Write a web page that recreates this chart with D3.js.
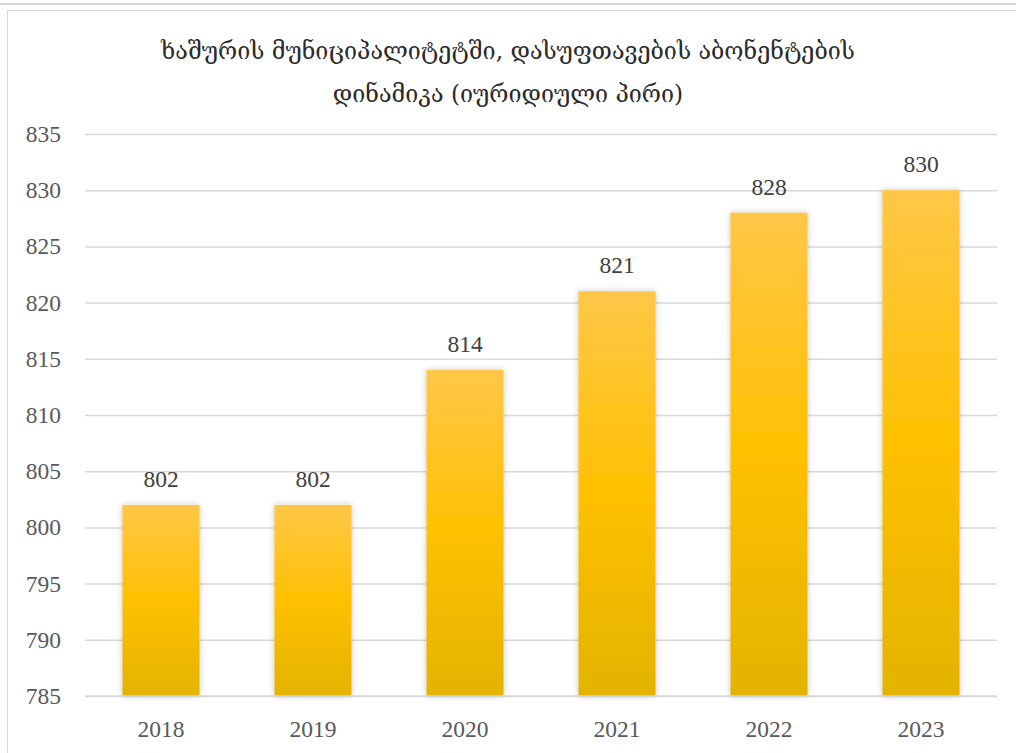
<!DOCTYPE html>
<html><head><meta charset="utf-8">
<script src="https://cdn.jsdelivr.net/npm/d3@7"></script>
<style>html,body{margin:0;padding:0;background:#fff;}svg{display:block;}</style>
</head><body>
<svg id="c" width="1016" height="753"></svg>
<script>
const titleLines = ["ხაშურის მუნიციპალიტეტში, დასუფთავების აბონენტების", "დინამიკა (იურიდიული პირი)"];
const years = ["2018","2019","2020","2021","2022","2023"];
const values = [802, 802, 814, 821, 828, 830];
const yTicks = [785,790,795,800,805,810,815,820,825,830,835];

const svg = d3.select("#c");
const W = 1016, H = 753;
const m = {left:85, right:19, top:134, bottom:57};

// frames
svg.append("line").attr("x1",0).attr("x2",W).attr("y1",4).attr("y2",4).attr("stroke","#d9d9d9").attr("stroke-width",2);
svg.append("rect").attr("x",7.5).attr("y",10.5).attr("width",W+20).attr("height",H+20)
  .attr("fill","#fff").attr("stroke","#d9d9d9").attr("stroke-width",1);

const defs = svg.append("defs");
const g = defs.append("linearGradient").attr("id","barg").attr("x1",0).attr("y1",0).attr("x2",0).attr("y2",1)
  .attr("gradientUnits","objectBoundingBox");
g.append("stop").attr("offset","0%").attr("stop-color","#FFC748");
g.append("stop").attr("offset","50%").attr("stop-color","#FFC000");
g.append("stop").attr("offset","100%").attr("stop-color","#E3B300");
const f = defs.append("filter").attr("id","sh").attr("x","-20%").attr("y","-20%").attr("width","140%").attr("height","140%");
f.append("feGaussianBlur").attr("in","SourceAlpha").attr("stdDeviation",3).attr("result","b");
f.append("feFlood").attr("flood-color","#000").attr("flood-opacity",0.22);
f.append("feComposite").attr("in2","b").attr("operator","in").attr("result","s");
const mg = f.append("feMerge");
mg.append("feMergeNode").attr("in","s");
mg.append("feMergeNode").attr("in","SourceGraphic");

const x = d3.scaleBand().domain(years).range([m.left, W-m.right]).paddingInner(0.493).paddingOuter(0.2465);
const y = d3.scaleLinear().domain([785,835]).range([H-m.bottom, m.top]);

// title
const t = svg.append("text").attr("text-anchor","middle").attr("font-family","'DejaVu Serif', 'Noto Sans', serif")
  .attr("font-size",23.3).attr("fill","#2a2a2a");
titleLines.forEach((l,i)=>t.append("tspan").attr("x",508).attr("y",59+i*43).text(l));

// grid + y axis
const ya = d3.axisLeft(y).tickValues(yTicks).tickSize(-(W-m.left-m.right)).tickFormat(d3.format("d"));
const yg = svg.append("g").attr("transform",`translate(${m.left},0)`).call(ya);
yg.select(".domain").remove();
yg.selectAll(".tick line").attr("stroke","#d9d9d9").attr("stroke-width",1.5);
yg.selectAll(".tick text").attr("x",-24).attr("font-family","'Liberation Serif', serif").attr("font-size",23.5).attr("fill","#595959");

// bars
svg.append("g").selectAll("rect").data(values).join("rect")
  .attr("x",(d,i)=>x(years[i])).attr("width",x.bandwidth())
  .attr("y",d=>y(d)).attr("height",d=>y(785)-y(d))
  .attr("fill","url(#barg)").attr("filter","url(#sh)");

// baseline
svg.append("line").attr("x1",m.left).attr("x2",W-m.right).attr("y1",y(785)).attr("y2",y(785)).attr("stroke","#d9d9d9").attr("stroke-width",1.5);

// data labels
svg.append("g").selectAll("text").data(values).join("text")
  .attr("x",(d,i)=>x(years[i])+x.bandwidth()/2).attr("y",d=>y(d)-18)
  .attr("text-anchor","middle").attr("font-family","'Liberation Serif', serif").attr("font-size",23.5).attr("fill","#404040")
  .text(d=>d);

// x axis
const xa = d3.axisBottom(x).tickSize(0).tickPadding(0);
const xg = svg.append("g").attr("transform",`translate(0,${y(785)})`).call(xa);
xg.select(".domain").remove();
xg.selectAll(".tick text").attr("dy",0).attr("y",41).attr("font-family","'Liberation Serif', serif").attr("font-size",23.5).attr("fill","#595959");
</script>
</body></html>
